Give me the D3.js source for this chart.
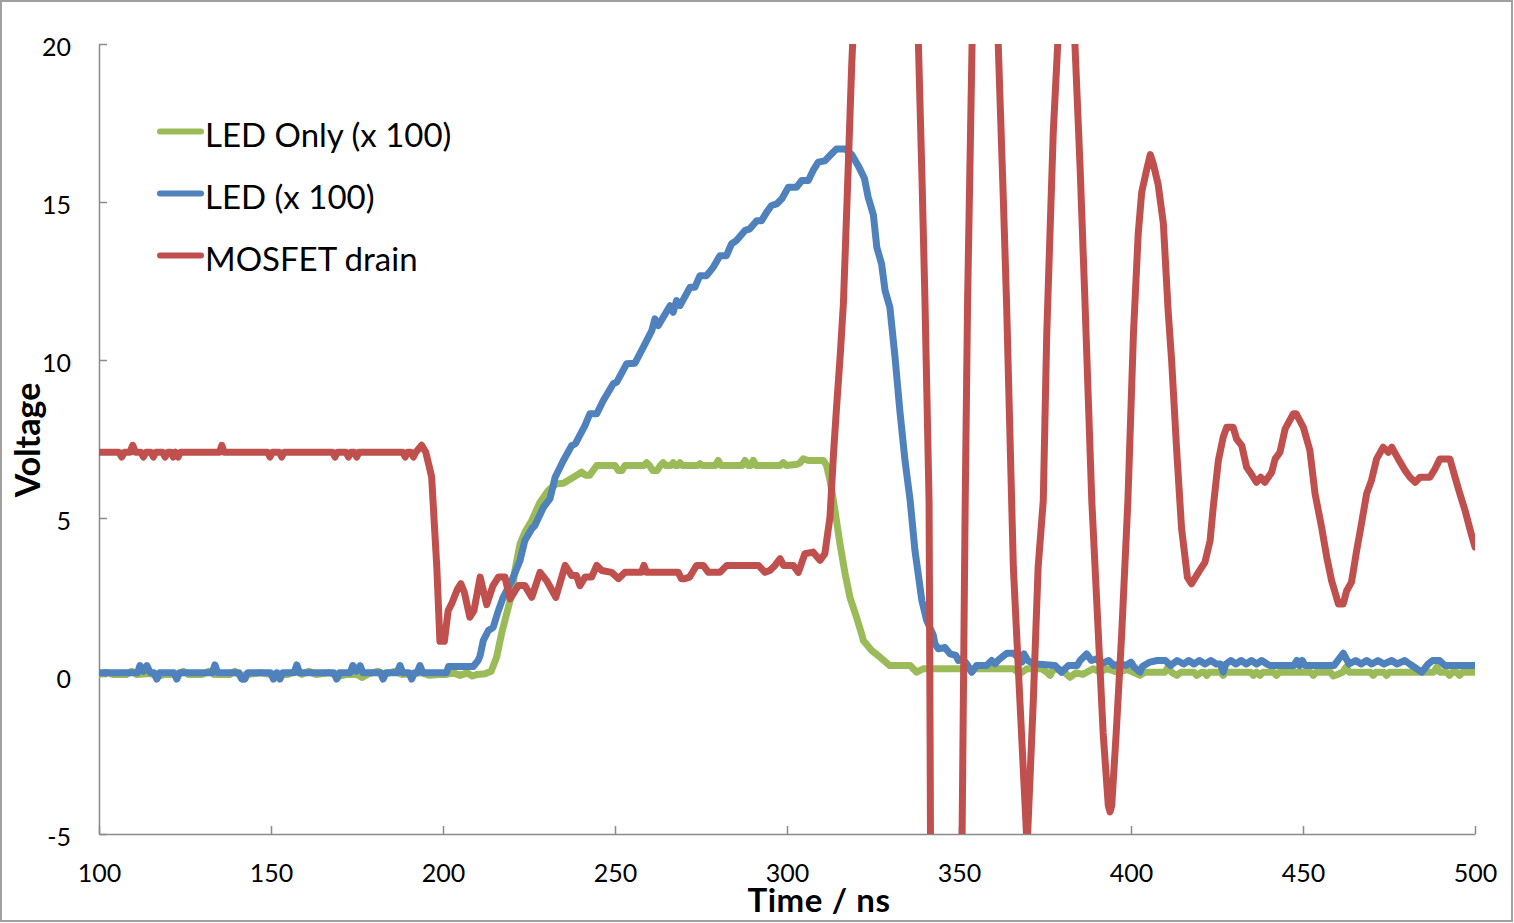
<!DOCTYPE html>
<html>
<head>
<meta charset="utf-8">
<script src="https://cdn.jsdelivr.net/npm/d3@7"></script>
<style>
  html, body { margin: 0; padding: 0; background: #fff; }
  svg { display: block; }
</style>
</head>
<body>
<svg id="chart" width="1514" height="923"></svg>
<script>
// ---- Data (time in ns, voltage) ----
const seriesNames = ["LED Only (x 100)", "LED (x 100)", "MOSFET drain"];
const seriesColors = ["#9BBB59", "#4F81BD", "#C0504D"];
const xTicks = [100, 150, 200, 250, 300, 350, 400, 450, 500];
const yTicks = [-5, 0, 5, 10, 15, 20];

const ledOnly = [
  [100,0.05],[102,0.12],[104,0.05],[108,0.05],[109.5,0.15],[111,0.05],[115,0.08],[117,-0.02],[119,0.05],
  [123,0.05],[124.5,0.15],[126,0.05],[130,0.05],[132,0.15],[133.5,0.05],[138,0.05],[139.5,0.15],[141,0.0],
  [143,0.05],[147,0.1],[150,0.05],[155,0.05],[157,0.15],[159,0.05],[161,0.15],[163,0.05],[167,0.1],[170,0.0],
  [172,0.05],[175,0.05],[176.5,-0.05],[178,0.05],[181,0.15],[183,0.05],[186,0.15],[188,0.05],[194,0.1],
  [196,0.02],[199,0.05],[201,0.05],[203,0.1],[205,0.02],[207,0.1],[208.5,0.0],[210,0.05],[212.2,0.07],
  [214,0.15],[215.6,0.6],[217,1.33],[218.5,1.97],[220,2.6],[220.9,3.34],[222.4,4.18],[223.8,4.55],
  [225.8,4.92],[228.2,5.5],[230.6,5.87],[233,6.08],[235,6.1],[237.9,6.29],[240.3,6.45],[241.5,6.35],
  [242.6,6.35],[244.7,6.66],[250,6.66],[251,6.5],[252,6.5],[252.9,6.66],[258.4,6.66],[259.2,6.75],
  [260,6.66],[261,6.5],[262.2,6.5],[263.2,6.66],[264,6.75],[264.8,6.66],[266.2,6.66],[266.9,6.75],
  [267.6,6.66],[268.2,6.66],[268.9,6.75],[269.6,6.66],[274,6.66],[274.7,6.72],[275.4,6.66],[279.2,6.66],
  [280,6.82],[280.8,6.66],[287,6.66],[287.8,6.82],[288.8,6.66],[289.5,6.66],[290.2,6.82],[291,6.66],
  [298,6.66],[298.9,6.75],[299.8,6.66],[303,6.7],[303.8,6.75],[304.7,6.87],[306.2,6.82],[310.6,6.82],
  [311.5,6.66],[312.5,6.19],[313.5,5.55],[315.4,4.18],[316.9,3.23],[318.3,2.49],[320.2,1.86],[321.7,1.33],
  [322.2,1.12],[324.6,0.81],[327,0.6],[329.9,0.33],[335.8,0.33],[337.7,0.12],[339.6,0.23],[365.8,0.23],
  [367.7,0.07],[369.7,0.23],[374,0.23],[375.5,0.12],[376.5,0.02],[377.5,0.23],[380,0.18],[382.3,-0.04],
  [384,0.1],[386,0.05],[389,0.23],[391,0.12],[393,0.23],[396,0.12],[399,0.2],[402.6,0.02],[404,0.12],
  [409.8,0.12],[410.8,0.28],[411.8,0.12],[413.3,0.02],[414.5,0.12],[418.3,0.12],[419.1,0.02],[420.5,0.12],
  [421.3,0.12],[422,0.02],[422.8,0.12],[426,0.12],[426.8,0.02],[427.6,0.12],[434.8,0.12],[435.6,0.02],
  [436.5,0.12],[437.5,0.02],[438.4,0.12],[441.5,0.12],[442.3,0.02],[443.1,0.12],[452.2,0.12],[453,0.02],
  [453.8,0.12],[458,0.12],[458.8,0.0],[460,0.05],[461.5,0.12],[462.5,0.28],[463.5,0.12],[469.6,0.12],
  [470.4,0.02],[471.2,0.12],[473.5,0.12],[474.3,0.02],[475.1,0.12],[488,0.12],[488.9,0.28],[489.8,0.12],
  [491.8,0.12],[492.6,0.02],[493.4,0.12],[494.7,0.12],[495.5,0.02],[496.3,0.12],[500,0.12]
];

const ledX100 = [
  [100,0.1],[111.2,0.1],[111.9,0.33],[112.9,0.15],[113.9,0.33],[114.9,0.1],[116,0.1],[116.8,-0.1],[117.6,0.1],
  [121.8,0.1],[122.6,-0.1],[123.4,0.1],[132.9,0.1],[133.7,0.35],[134.5,0.1],[140.7,0.1],[141.5,-0.1],
  [142.4,-0.1],[143.2,0.1],[149.9,0.1],[150.7,-0.1],[151.6,0.1],[151.8,0.1],[152.6,-0.1],[153.4,0.1],
  [156.7,0.1],[157.5,0.35],[158.3,0.1],[168.3,0.1],[169.1,-0.1],[169.9,0.1],[173,0.1],[173.8,0.33],
  [174.8,0.15],[175.9,0.33],[176.7,0.1],[181.8,0.1],[182.6,-0.1],[183.4,0.1],[186.7,0.1],[187.5,0.33],
  [188.3,0.1],[190.1,0.1],[190.9,-0.1],[191.7,0.1],[192.5,0.1],[193.3,0.33],[194.1,0.1],[201,0.1],
  [201.6,0.3],[208.8,0.3],[210.2,0.49],[210.8,0.65],[211.7,1.12],[213.2,1.44],[214.6,1.54],[216.1,2.07],
  [217.5,2.49],[220,3.02],[222.4,3.66],[223.8,4.29],[225.8,4.66],[226.7,4.76],[229.2,5.34],[231.1,5.61],
  [232.6,6.29],[235,6.82],[237.4,7.29],[238.5,7.35],[241.3,7.93],[242.7,8.3],[244.7,8.3],[246.6,8.72],
  [249.5,9.25],[250.5,9.3],[253.4,9.88],[255.8,9.9],[258.2,10.4],[260.7,10.93],[261.6,11.3],[262.6,11.09],
  [266,11.72],[266.9,11.51],[267.9,11.88],[268.9,11.72],[271.8,12.3],[273.2,12.3],[274.7,12.67],
  [276.6,12.67],[278.6,12.94],[280.5,13.3],[282.4,13.3],[283.9,13.68],[285.3,13.78],[287.8,14.1],
  [289.2,14.15],[291.2,14.41],[292.6,14.41],[294.1,14.68],[295.5,14.89],[297,14.94],[298.5,15.1],
  [300.4,15.47],[302.8,15.47],[304.3,15.68],[306.2,15.68],[307.6,16.0],[309.1,16.26],[311,16.3],
  [312.5,16.47],[314.4,16.68],[316.9,16.68],[318.8,16.5],[320.7,16.15],[322.5,15.75],[323.6,15.15],
  [325.1,14.6],[326.1,13.57],[327.5,13.04],[328.5,12.2],[329.9,11.67],[331.4,10.09],[332.8,8.4],
  [334.3,6.82],[335.8,5.55],[337.2,3.97],[339.2,2.39],[340.6,1.76],[342.5,1.3],[343,1.02],[344,0.86],
  [345.9,0.9],[347.4,0.7],[349.1,0.65],[349.8,0.49],[351,0.55],[352.2,0.39],[353.7,0.12],[355.1,0.33],
  [358,0.33],[359.5,0.49],[360.5,0.39],[361.8,0.54],[363.9,0.72],[365.8,0.72],[367,0.6],[368.3,0.44],
  [368.9,0.7],[370,0.49],[371.6,0.39],[377.9,0.33],[379.8,0.12],[381.8,0.33],[384.3,0.33],[385.2,0.49],
  [387.1,0.7],[388.5,0.49],[390,0.54],[391.5,0.39],[393.5,0.49],[395,0.33],[397,0.39],[398.5,0.33],
  [400,0.44],[400.9,0.28],[402.6,0.12],[403.3,0.3],[405.5,0.44],[407.6,0.49],[410,0.49],[411.5,0.33],
  [413.4,0.49],[415.3,0.38],[416.8,0.49],[418.3,0.38],[419.9,0.49],[421.5,0.38],[423.2,0.49],[424.8,0.38],
  [426,0.38],[426.8,0.12],[427.6,0.38],[429,0.49],[430.5,0.38],[432,0.49],[433.5,0.38],[435,0.49],
  [436.5,0.38],[438,0.49],[439.5,0.38],[440.5,0.33],[447.3,0.33],[448.2,0.49],[449,0.33],[449.8,0.49],
  [450.6,0.33],[459,0.33],[461.7,0.72],[463.4,0.38],[465.3,0.49],[466.9,0.38],[468.5,0.49],[470,0.38],
  [471.8,0.49],[473.5,0.38],[475.8,0.49],[477.3,0.38],[479.6,0.49],[481,0.38],[484.5,0.12],[486.4,0.38],
  [487.7,0.49],[489.7,0.49],[491.2,0.33],[500,0.33]
];

const mosfetDrain = [
  [100,7.08],[105.8,7.08],[106.6,6.93],[107.4,7.08],[109,7.08],[109.8,7.3],[110.6,7.08],[112.2,7.08],
  [112.9,6.93],[113.7,7.08],[115.1,7.08],[115.8,6.93],[116.5,7.08],[118.5,7.08],[119.2,6.93],[120,7.08],
  [121,7.08],[121.6,6.93],[122.3,7.08],[123,6.93],[123.7,7.08],[135,7.08],[135.7,7.3],[136.4,7.08],
  [149,7.08],[149.7,6.93],[150.4,7.08],[152.4,7.08],[153.1,6.93],[153.8,7.08],[167.9,7.08],[168.6,6.93],
  [169.3,7.08],[171.8,7.08],[172.5,6.93],[173.2,7.08],[174.2,7.08],[174.9,6.93],[175.6,7.08],[188.3,7.08],
  [189,6.93],[189.7,7.08],[190.7,7.08],[191.4,6.93],[192.1,7.08],[193.8,7.3],[195,7.08],[196.7,6.3],
  [198.2,3.44],[199.1,1.1],[200.4,1.1],[201.5,2.07],[202.5,2.28],[204.2,2.75],[205.2,2.92],[206.2,2.65],
  [207.8,1.86],[209,2.07],[210.8,3.13],[212.7,2.26],[214.5,2.85],[216.1,3.13],[218,3.13],[219.5,2.44],
  [221.9,2.86],[223.8,2.86],[225.8,2.49],[228.2,3.28],[230.1,3.02],[232.8,2.49],[235.5,3.5],[237.4,3.18],
  [238.8,3.18],[239.8,2.86],[241.3,3.13],[243.2,3.13],[244.7,3.5],[246.1,3.34],[249,3.28],[251,3.08],
  [252.9,3.28],[257.7,3.28],[258.4,3.5],[259.2,3.28],[268.4,3.28],[269.3,3.08],[270.3,3.08],[271.7,3.13],
  [273.7,3.5],[275.7,3.5],[277.1,3.28],[280.5,3.28],[282.5,3.5],[291.7,3.5],[293.6,3.28],[295,3.34],
  [296.5,3.5],[298,3.71],[299,3.5],[301.8,3.5],[303.3,3.28],[305.2,3.87],[307.6,3.92],[309.6,3.66],
  [311,3.87],[312.5,5.03],[313.5,7.0],[314.4,8.5],[315.5,10.2],[316.4,11.8],[317.8,16.1],[318.8,19.3],
  [319.8,21.8],[322,26],[325,30],[329,32],[333,30],[336,26],[338.2,20],[339.3,15.5],[340.1,11.9],
  [340.7,8.7],[341.3,5.5],[342.3,-20],[346,-25],[349.5,-20],[350.3,-12],[351.8,5.5],[352.5,11.9],
  [353.8,20],[355,24],[358,27],[360,24],[361.4,20],[362.9,15.05],[363.8,11.9],[365.3,5.55],[365.8,3.44],
  [367.7,-0.78],[369.8,-5.4],[371.6,-0.78],[373,3.44],[374.5,5.55],[375.5,10.8],[377.4,17.2],[378.7,20],
  [380,22.5],[381.5,23],[383,22],[383.7,20],[385.2,16.1],[386.6,11.9],[388.6,5.55],[390.5,1.34],
  [391.9,-1.8],[393.4,-4.1],[393.9,-4.3],[394.4,-4.1],[395.7,-1.8],[397.3,1.34],[399.1,5.55],[400.7,10.8],
  [402.1,14.0],[403.1,15.3],[404.5,16.0],[405.6,16.5],[406.5,16.2],[407.9,15.55],[409.4,14.33],
  [410.8,11.55],[411.8,10.0],[413.3,7.1],[414.7,4.67],[416.4,3.12],[417.6,2.92],[419.6,3.28],[421.5,3.6],
  [423,4.29],[423.9,5.34],[425.4,6.82],[426.8,7.56],[427.8,7.87],[429.7,7.87],[430.7,7.5],[432.2,7.29],
  [433.6,6.61],[434.6,6.45],[436.5,6.13],[437.7,6.29],[438.9,6.13],[440.9,6.45],[441.9,6.87],[443.3,7.08],
  [444.8,7.82],[447.2,8.3],[448,8.3],[450.1,7.87],[452,7.14],[453.5,5.77],[455.4,4.71],[456.9,3.76],
  [458.3,3.02],[460.3,2.28],[461.7,2.28],[462.7,2.7],[464.1,2.97],[465.6,3.97],[467,4.82],[468.5,5.77],
  [469.9,6.19],[471.4,6.87],[473.3,7.24],[474.8,7.08],[475.8,7.24],[477.7,6.87],[479.7,6.5],[481.1,6.29],
  [482.6,6.13],[484,6.29],[486.9,6.29],[488.4,6.56],[489.8,6.87],[492.7,6.87],[494.2,6.29],[495.6,5.77],
  [497.1,5.24],[498.5,4.66],[500,4.08]
];

const allSeries = [ledOnly, ledX100, mosfetDrain];

// ---- Layout ----
const svg = d3.select("#chart");
const W = 1514, H = 923;
const plot = { left: 99, right: 1475, top: 44, bottom: 834 };
const axisColor = "#8a8a8a";
const font = "Lato, 'Open Sans', sans-serif";

svg.append("rect").attr("x", 1).attr("y", 1).attr("width", W - 3).attr("height", H - 3)
  .attr("fill", "#fff").attr("stroke", "#a0a0a0").attr("stroke-width", 2);

const x = d3.scaleLinear().domain([100, 500]).range([plot.left, plot.right]);
const y = d3.scaleLinear().domain([-5, 20]).range([plot.bottom, plot.top]);

svg.append("defs").append("clipPath").attr("id", "plotClip")
  .append("rect").attr("x", plot.left).attr("y", plot.top)
  .attr("width", plot.right - plot.left).attr("height", plot.bottom - plot.top);

// Axes
const yAxis = d3.axisLeft(y).tickValues(yTicks).tickSizeInner(-8).tickSizeOuter(0)
  .tickPadding(28).tickFormat(d => String(d));
const gy = svg.append("g").attr("transform", `translate(${plot.left},0)`).call(yAxis);
gy.selectAll("text").attr("dy", "0.47em");

const xAxis = d3.axisBottom(x).tickValues(xTicks).tickSizeInner(-8).tickSizeOuter(0)
  .tickPadding(30).tickFormat(d => String(d));
const gx = svg.append("g").attr("transform", `translate(0,${plot.bottom})`).call(xAxis);

[gx, gy].forEach(g => {
  g.select(".domain").attr("stroke", axisColor).attr("stroke-width", 1.5);
  g.selectAll(".tick line").attr("stroke", axisColor).attr("stroke-width", 1.5);
  g.selectAll("text").attr("fill", "#000").style("font-family", font).style("font-size", "25px");
});

// Lines
const line = d3.line().x(d => x(d[0])).y(d => y(d[1]));
const linesG = svg.append("g").attr("clip-path", "url(#plotClip)");
allSeries.forEach((s, i) => {
  linesG.append("path").datum(s).attr("d", line)
    .attr("fill", "none").attr("stroke", seriesColors[i]).attr("stroke-width", 7)
    .attr("stroke-linejoin", "round").attr("stroke-linecap", "round");
});

// Legend
const legend = svg.append("g");
seriesNames.forEach((name, i) => {
  const ly = 131.5 + i * 62;
  legend.append("line").attr("x1", 160).attr("x2", 201).attr("y1", ly).attr("y2", ly)
    .attr("stroke", seriesColors[i]).attr("stroke-width", 6).attr("stroke-linecap", "round");
  legend.append("text").attr("x", 205).attr("y", ly + 15)
    .style("font-family", font).style("font-size", "33px").attr("fill", "#000").text(name);
});

// Axis titles
svg.append("text").attr("transform", "translate(40,440) rotate(-90)")
  .attr("text-anchor", "middle").style("font-family", font).style("font-size", "34px")
  .style("font-weight", "bold").attr("fill", "#000").text("Voltage");
svg.append("text").attr("x", 819).attr("y", 912).attr("text-anchor", "middle")
  .style("font-family", font).style("font-size", "33px").style("font-weight", "bold")
  .style("letter-spacing", "0.6px").attr("fill", "#000").text("Time / ns");
</script>
</body>
</html>
